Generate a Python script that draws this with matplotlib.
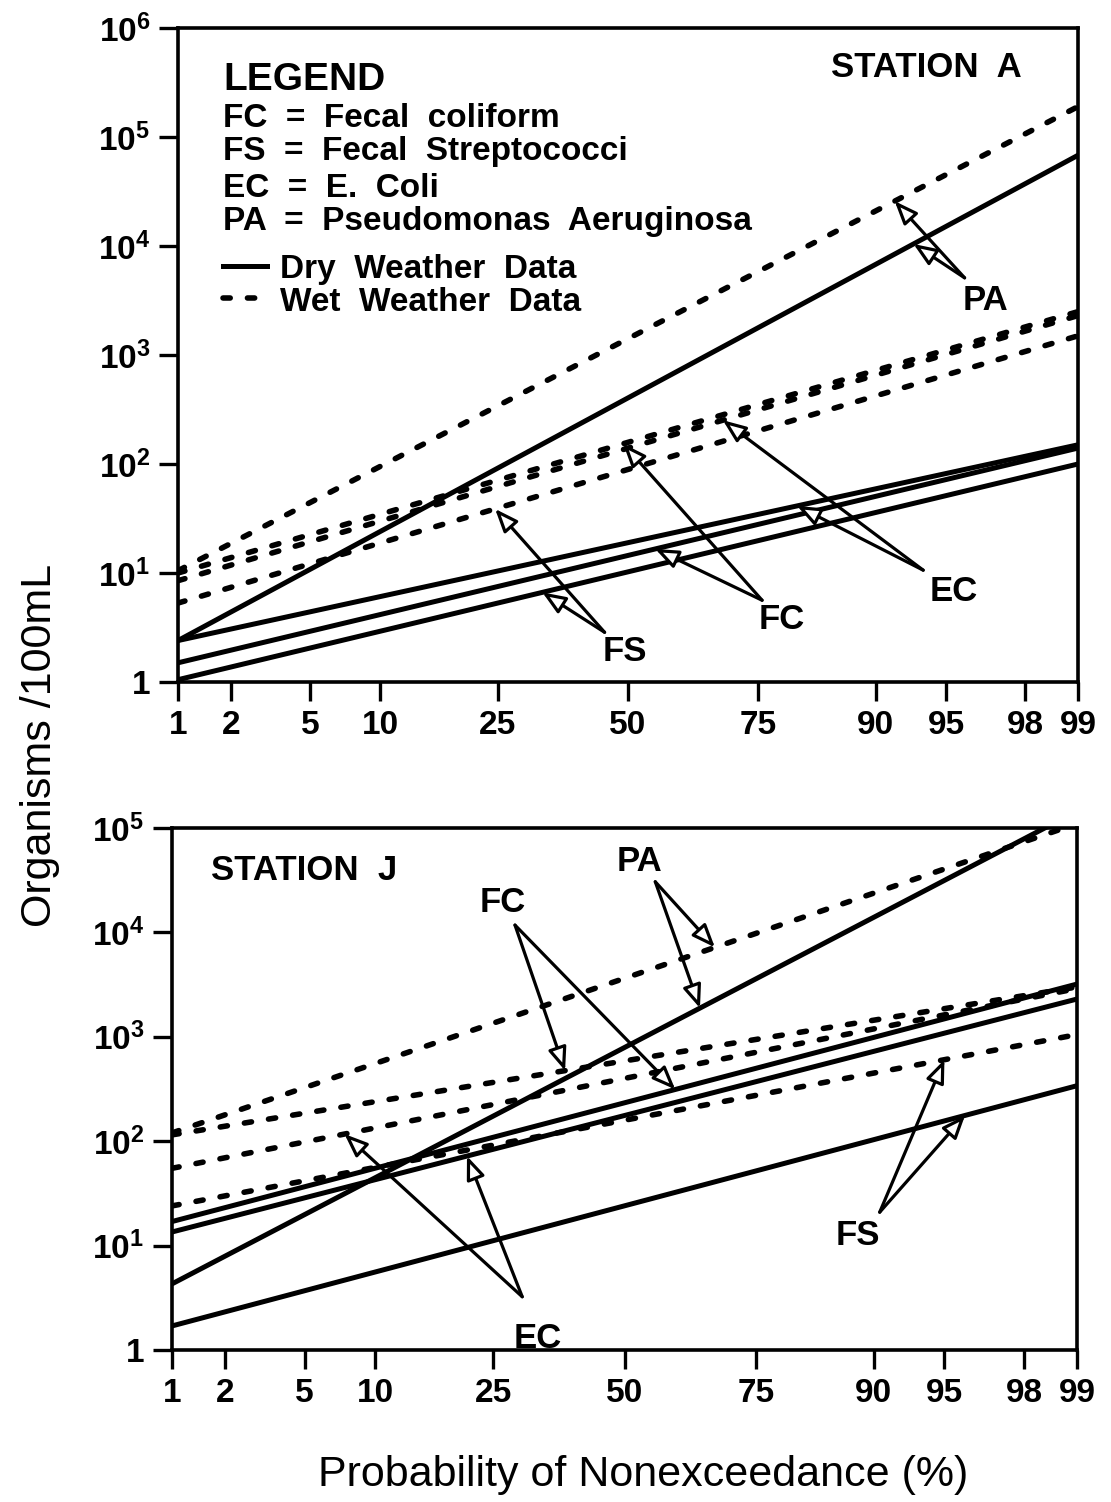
import numpy as np
import matplotlib
matplotlib.use('Agg')
import matplotlib.pyplot as plt
from matplotlib.ticker import NullLocator
from statistics import NormalDist

# probability axis (percent of nonexceedance)
prob_ticks = [1, 2, 5, 10, 25, 50, 75, 90, 95, 98, 99]
line_ends = [1, 99]   # each fitted line is known by its value at 1% and 99%
names = ['PA', 'FC', 'EC', 'FS']

# Station A: organisms /100mL at 1% and 99%
a_dry_lo = [2.4, 1.5, 2.4, 1.05]
a_dry_hi = [6.8e4, 140, 150, 100]
a_wet_lo = [10.5, 10, 8.5, 5.3]
a_wet_hi = [1.9e5, 2.5e3, 2.3e3, 1.5e3]
# where the arrows hit the lines (%)
a_dry_arrow = [93, 55.6, 80.9, 32.9]
a_wet_arrow = [91.6, 49, 68.8, 24.6]

# Station J
j_dry_lo = [4.3, 17, 13.5, 1.7]
j_dry_hi = [1.45e5, 3.2e3, 2.3e3, 340]
j_wet_lo = [120, 115, 55, 24]
j_wet_hi = [1.1e5, 3.0e3, 2.9e3, 1.05e3]
j_dry_arrow = [65.1, 60.3, 20.9, 96]
j_wet_arrow = [67.9, 38, 7.5, 95]

legend_rows = ['FC  =  Fecal  coliform', 'FS  =  Fecal  Streptococci',
               'EC  =  E.  Coli', 'PA  =  Pseudomonas  Aeruginosa']

plt.rcParams['font.family'] = ['Liberation Sans', 'DejaVu Sans']
plt.rcParams['font.weight'] = 'bold'
plt.rcParams['mathtext.fontset'] = 'custom'
plt.rcParams['mathtext.rm'] = 'Liberation Sans'
plt.rcParams['mathtext.bf'] = 'Liberation Sans:bold'

ND = NormalDist()
_ppf = np.vectorize(ND.inv_cdf, otypes=[float])
_cdf = np.vectorize(ND.cdf, otypes=[float])


def fwd(p):
    q = np.clip(np.asarray(p, dtype=float) / 100.0, 1e-9, 1 - 1e-9)
    return _ppf(q)


def inv(z):
    return _cdf(np.asarray(z, dtype=float)) * 100.0


def value_on_line(p, lo, hi):
    # straight line on probability / log paper
    z0, z1 = ND.inv_cdf(0.01), ND.inv_cdf(0.99)
    t = (ND.inv_cdf(p / 100.0) - z0) / (z1 - z0)
    return 10 ** (np.log10(lo) + t * (np.log10(hi) - np.log10(lo)))


LW = 3.6
DASH = (0, (1.3, 3.1))


def setup(ax, ymax_exp):
    ax.set_xscale('function', functions=(fwd, inv))
    ax.set_yscale('log')
    ax.set_xlim(1, 99)
    ax.set_ylim(1, 10 ** ymax_exp)
    ax.set_xticks(prob_ticks)
    ax.set_xticklabels([str(t) for t in prob_ticks])
    yt = [10 ** k for k in range(ymax_exp + 1)]
    ax.set_yticks(yt)
    ax.set_yticklabels(['1'] + [r'$\mathbf{10^{%d}}$' % k for k in range(1, ymax_exp + 1)])
    ax.xaxis.set_minor_locator(NullLocator())
    ax.yaxis.set_minor_locator(NullLocator())
    ax.tick_params(axis='both', direction='out', length=14, width=2.4,
                   labelsize=24, pad=6)
    for s in ax.spines.values():
        s.set_linewidth(2.6)


def draw_lines(ax, dry_lo, dry_hi, wet_lo, wet_hi):
    for lo, hi in zip(dry_lo, dry_hi):
        ax.plot(line_ends, [lo, hi], color='black', lw=LW, solid_capstyle='butt')
    for lo, hi in zip(wet_lo, wet_hi):
        ax.plot(line_ends, [lo, hi], color='black', lw=LW + 0.4, linestyle=DASH,
                dash_capstyle='round')


def arrows(ax, label, text_xy, tail_xy, tips):
    ax.text(*text_xy, label, transform=ax.transAxes, fontsize=25,
            ha='center', va='center')
    for tip in tips:
        ax.annotate('', xy=tip, xycoords='data', xytext=tail_xy,
                    textcoords='axes fraction',
                    arrowprops=dict(arrowstyle='-|>,head_length=0.7,head_width=0.28',
                                    mutation_scale=20, lw=2.3, fc='white',
                                    ec='black', shrinkA=0, shrinkB=0))


fig = plt.figure(figsize=(11.11, 15.02), dpi=100)

# ---------------- Station A ----------------
ax1 = fig.add_axes([178 / 1111, 1 - 682 / 1502, 900 / 1111, 654 / 1502])
setup(ax1, 6)
draw_lines(ax1, a_dry_lo, a_dry_hi, a_wet_lo, a_wet_hi)

ax1.text(0.832, 0.940, 'STATION  A', transform=ax1.transAxes, fontsize=25,
         ha='center', va='center')
ax1.text(0.05, 0.920, 'LEGEND', transform=ax1.transAxes, fontsize=28,
         ha='left', va='center')
for i, row in enumerate(legend_rows):
    ax1.text(0.05, [0.862, 0.811, 0.755, 0.704][i], row, transform=ax1.transAxes,
             fontsize=24, ha='left', va='center')
ax1.plot([0.05, 0.099], [0.636, 0.636], transform=ax1.transAxes, color='black', lw=LW)
ax1.plot([0.05, 0.099], [0.587, 0.587], transform=ax1.transAxes, color='black',
         lw=LW + 0.4, linestyle=DASH, dash_capstyle='round')
ax1.text(0.113, 0.630, 'Dry  Weather  Data', transform=ax1.transAxes, fontsize=24,
         ha='left', va='center')
ax1.text(0.113, 0.581, 'Wet  Weather  Data', transform=ax1.transAxes, fontsize=24,
         ha='left', va='center')

a_text = {'PA': ((0.897, 0.584), (0.874, 0.618)),
          'EC': ((0.862, 0.138), (0.828, 0.171)),
          'FC': ((0.671, 0.095), (0.649, 0.125)),
          'FS': ((0.496, 0.046), (0.474, 0.076))}
for i, nm in enumerate(names):
    tips = [(a_wet_arrow[i], value_on_line(a_wet_arrow[i], a_wet_lo[i], a_wet_hi[i])),
            (a_dry_arrow[i], value_on_line(a_dry_arrow[i], a_dry_lo[i], a_dry_hi[i]))]
    arrows(ax1, nm, a_text[nm][0], a_text[nm][1], tips)

# ---------------- Station J ----------------
ax2 = fig.add_axes([172 / 1111, 1 - 1350 / 1502, 905 / 1111, 522 / 1502])
setup(ax2, 5)
draw_lines(ax2, j_dry_lo, j_dry_hi, j_wet_lo, j_wet_hi)

ax2.text(0.146, 0.918, 'STATION  J', transform=ax2.transAxes, fontsize=25,
         ha='center', va='center')

j_text = {'PA': ((0.517, 0.935), (0.534, 0.897)),
          'FC': ((0.366, 0.858), (0.379, 0.814)),
          'EC': ((0.404, 0.022), (0.387, 0.102)),
          'FS': ((0.758, 0.220), (0.782, 0.264))}
for i, nm in enumerate(names):
    tips = [(j_wet_arrow[i], value_on_line(j_wet_arrow[i], j_wet_lo[i], j_wet_hi[i])),
            (j_dry_arrow[i], value_on_line(j_dry_arrow[i], j_dry_lo[i], j_dry_hi[i]))]
    arrows(ax2, nm, j_text[nm][0], j_text[nm][1], tips)

fig.text(0.036, 1 - 745 / 1502, 'Organisms /100mL', rotation=90, fontsize=31,
         fontweight='normal', ha='center', va='center')
fig.text(643 / 1111, 1 - 1475 / 1502, 'Probability of Nonexceedance (%)', fontsize=31,
         fontweight='normal', ha='center', va='center')

fig.savefig('out.png', dpi=100)
